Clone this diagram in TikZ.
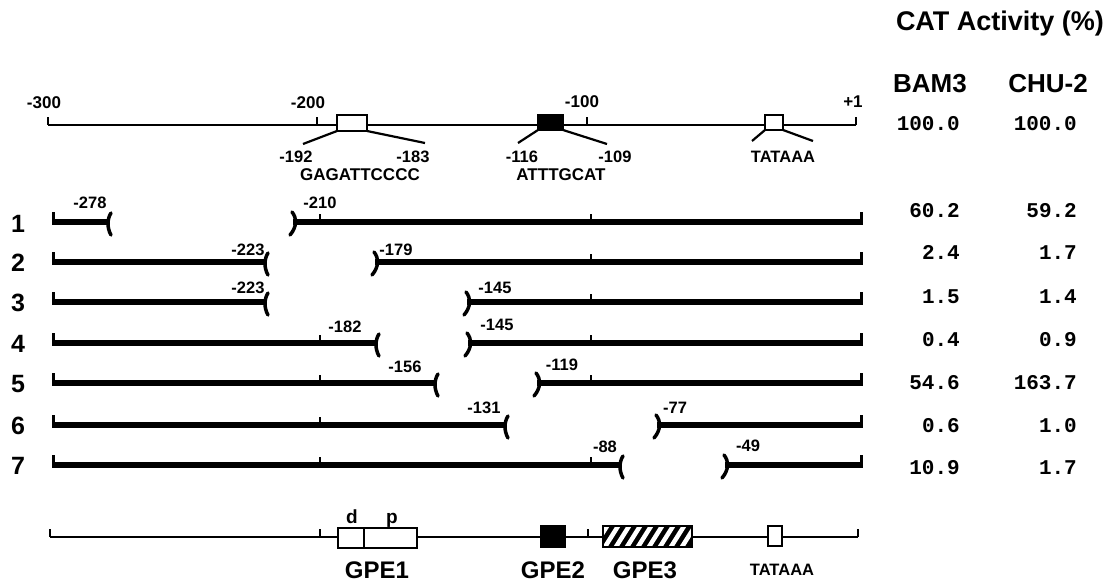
\documentclass[tikz,border=0pt]{standalone}
\usepackage{fontspec}
\setmainfont{Liberation Sans}
\newfontfamily\numfont{Liberation Mono}
\newcommand\brkL[2]{\draw[brk] (#1+1,#2-9) .. controls (#1-3,#2-3) and (#1-3,#2+6) .. (#1+1,#2+13);}
\newcommand\brkR[2]{\draw[brk] (#1-1,#2-10) .. controls (#1+4,#2-4) and (#1+4,#2+5) .. (#1-3,#2+13);}
\newcommand\segrow[3]{%
  \draw[rowl] (52,#1) -- (#2,#1);
  \draw[rowl] (#3,#1) -- (863,#1);
  \draw[endtick] (53.5,#1-10) -- (53.5,#1);
  \draw[endtick] (861.5,#1-10) -- (861.5,#1);
  \brkL{#2}{#1}\brkR{#3}{#1}}
\begin{document}
\begin{tikzpicture}[x=1pt,y=-1pt,
  txt/.style={inner sep=0pt, text depth=0pt},
  ttl/.style={txt, font=\fontsize{27}{30}\selectfont\bfseries, text height=19.4pt},
  hdr/.style={txt, font=\fontsize{26}{30}\selectfont\bfseries, text height=18.7pt},
  scl/.style={txt, font=\fontsize{17}{20}\selectfont\bfseries, text height=12.2pt},
  brl/.style={txt, font=\fontsize{16.5}{19}\selectfont\bfseries, text height=11.9pt},
  seq/.style={txt, font=\fontsize{17}{20}\selectfont\bfseries, text height=12.2pt},
  tata/.style={txt, font=\fontsize{16.5}{19}\selectfont\bfseries, text height=11.9pt},
  rnum/.style={txt, font=\fontsize{25}{28}\selectfont\bfseries, text height=18pt},
  val/.style={txt, anchor=east, font=\fontsize{21}{24}\selectfont\numfont\bfseries, text height=12.6pt},
  gpe/.style={txt, font=\fontsize{24}{28}\selectfont\bfseries, text height=17.2pt},
  dp/.style={inner sep=0pt, anchor=base, font=\fontsize{19}{22}\selectfont\bfseries},
  thin/.style={line width=1.5pt},
  stick/.style={line width=1.8pt},
  box/.style={line width=2pt, draw=black},
  diag/.style={line width=2.2pt},
  rowl/.style={line width=6.5pt, line cap=butt},
  endtick/.style={line width=3pt},
  intick/.style={line width=2pt},
  brk/.style={line width=3.5pt, line cap=round}
]
\useasboundingbox (0,0) rectangle (1112,584);
\fill[white] (0,0) rectangle (1112,584);

% ---------- header ----------
\node[ttl] (title) at (1000,21) {CAT Activity (\%)};
\node[hdr] (bam) at (930,83) {BAM3};
\node[hdr] (chu) at (1048,83) {CHU-2};

% ---------- top scale ----------
\draw[thin] (48,125) -- (856,125);
\foreach \x in {48,317,587,856} \draw[stick] (\x,117) -- (\x,125);
\node[scl] (s300) at (44,102) {-300};
\node[scl] (s200) at (308,102) {-200};
\node[scl] (s100) at (582,101) {-100};
\node[scl] (s1) at (853,101) {+1};

\draw[diag] (337,131) -- (303,144);
\draw[diag] (367,131) -- (425,143);
\draw[box, fill=white] (337,115) rectangle (367,131);
\draw[diag] (538,130) -- (518,143);
\draw[diag] (563,130) -- (607,144);
\draw[box, fill=black] (538,115) rectangle (563,130);
\draw[diag] (765,130) -- (752,141);
\draw[diag] (783,130) -- (813,141);
\draw[box, fill=white] (765,115) rectangle (783,130);

\node[brl] (l192) at (296,157) {-192};
\node[brl] (l183) at (413,157) {-183};
\node[seq] (gag) at (360,174) {GAGATTCCCC};
\node[brl] (l116) at (522,157) {-116};
\node[brl] (l109) at (615,157) {-109};
\node[seq] (att) at (561,174) {ATTTGCAT};
\node[tata] (tata1) at (783,157) {TATAAA};

% ---------- deletion rows ----------
\segrow{222}{110}{293}
\segrow{262}{267}{375}
\segrow{302}{267}{467}
\segrow{343}{378}{468}
\segrow{383}{437}{537}
\segrow{425}{507}{657}
\segrow{465}{622}{725}
% interior ticks
\foreach \x/\y in {320/222,591/222,591/262,591/302,320/343,591/343,320/383,591/383,320/425,320/465,591/465}
  \draw[intick] (\x,\y-8) -- (\x,\y);

\foreach \n/\y in {1/223,2/262,3/302,4/343,5/383,6/425,7/465}
  \node[rnum] (r\n) at (18,\y) {\n};

\node[brl] (b278) at (90,203) {-278};
\node[brl] (b210) at (320,203) {-210};
\node[brl] (b223a) at (248,250) {-223};
\node[brl] (b179) at (396,250) {-179};
\node[brl] (b223b) at (248,288) {-223};
\node[brl] (b145a) at (495,288) {-145};
\node[brl] (b182) at (345,327) {-182};
\node[brl] (b145b) at (497,325) {-145};
\node[brl] (b156) at (405,367) {-156};
\node[brl] (b119) at (562,365) {-119};
\node[brl] (b131) at (484,408) {-131};
\node[brl] (b77) at (675,408) {-77};
\node[brl] (b88) at (605,447) {-88};
\node[brl] (b49) at (748,446) {-49};

% ---------- values ----------
\foreach \k/\a/\b/\y in {0/100.0/100.0/124,1/60.2/59.2/211,2/2.4/1.7/253,3/1.5/1.4/297,4/0.4/0.9/340,5/54.6/163.7/383,6/0.6/1.0/426,7/10.9/1.7/468}{
  \node[val] (va\k) at (960,\y) {\a};
  \node[val] (vb\k) at (1077,\y) {\b};
}

% ---------- bottom map ----------
\draw[thin] (50,537) -- (858,537);
\foreach \x in {50,320,588,858} \draw[stick] (\x,529) -- (\x,537);
\draw[box, fill=white] (338,528) rectangle (417,548);
\draw[box] (364,528) -- (364,548);
\draw[box, fill=black] (541,526) rectangle (565,547);
\begin{scope}
  \clip (603,526) rectangle (692,547);
  \fill[black] (603,526) rectangle (692,547);
  \foreach \i in {0,...,10} \draw[white, line width=4.5pt] (592+\i*11,550) -- (592+\i*11+17,523);
\end{scope}
\draw[box] (603,526) rectangle (692,547);
\draw[box, fill=white] (768,526) rectangle (782,546);

\node[dp] (d) at (352,523) {d};
\node[dp] (p) at (392,523) {p};
\node[gpe] (g1) at (377,570) {GPE1};
\node[gpe] (g2) at (553,570) {GPE2};
\node[gpe] (g3) at (645,570) {GPE3};
\node[tata] (tata2) at (782,570) {TATAAA};
\end{tikzpicture}
\end{document}
